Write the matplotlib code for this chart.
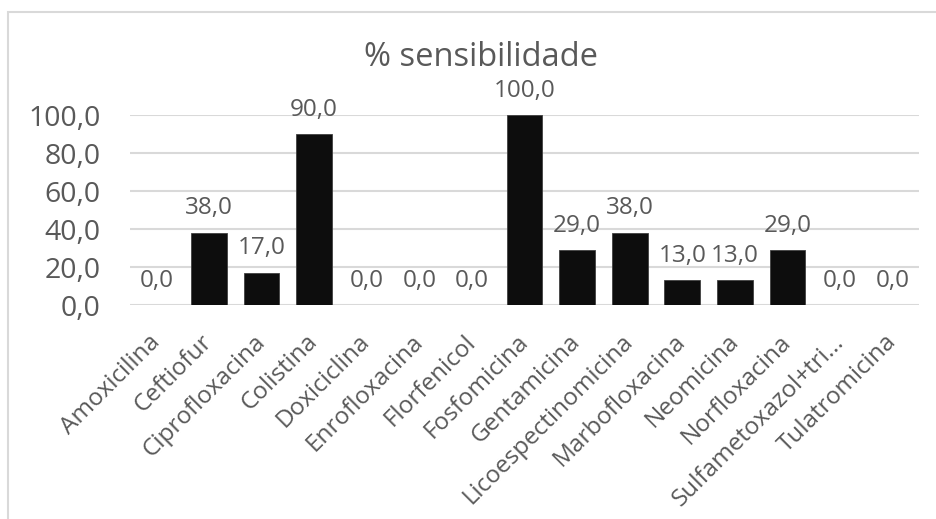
import matplotlib.pyplot as plt
from matplotlib.patches import Rectangle
from matplotlib.transforms import ScaledTranslation

# antimicrobial sensitivity (%)
drugs = ['Amoxicilina', 'Ceftiofur', 'Ciprofloxacina', 'Colistina', 'Doxiciclina',
         'Enrofloxacina', 'Florfenicol', 'Fosfomicina', 'Gentamicina',
         'Licoespectinomicina', 'Marbofloxacina', 'Neomicina', 'Norfloxacina',
         'Sulfametoxazol+tri...', 'Tulatromicina']
sensitivity = [0.0, 38.0, 17.0, 90.0, 0.0, 0.0, 0.0, 100.0, 29.0, 38.0, 13.0, 13.0, 29.0, 0.0, 0.0]
y_ticks = [0, 20, 40, 60, 80, 100]

TEXT = '#595959'
GRID = '#d9d9d9'
plt.rcParams['font.family'] = ['Open Sans', 'DejaVu Sans']

fig = plt.figure(figsize=(9.36, 5.19), dpi=100)

# chart-area border (only top and left edges visible in the crop)
fig.patches.append(Rectangle((8 / 936, -0.1), 1.2, 1 - 12 / 519 + 0.1,
                             transform=fig.transFigure, fill=False,
                             edgecolor=GRID, linewidth=1.5))

ax = fig.add_axes([130 / 936, 1 - 305 / 519, 789 / 936, 190 / 519])
x = range(len(drugs))
bars = ax.bar(x, sensitivity, width=0.68, color='#0d0d0d', edgecolor='#404040',
              linewidth=0.6, zorder=3)

for xi, v in zip(x, sensitivity):
    ax.annotate(f'{v:.1f}'.replace('.', ','), (xi, v), xytext=(0, 17.5),
                textcoords='offset points', ha='center', va='center',
                fontsize=17.5, color=TEXT)

ax.set_xlim(-0.5, len(drugs) - 0.5)
ax.set_ylim(0, 100)
ax.set_yticks(y_ticks)
ax.set_yticklabels([f'{t:.1f}'.replace('.', ',') for t in y_ticks], fontsize=20.5, color=TEXT)
ax.set_xticks(list(x))
ax.set_xticklabels(drugs, rotation=45, ha='right', va='center', rotation_mode='anchor',
                   fontsize=17.5, color=TEXT)
shift = ScaledTranslation(5 / 100, 0, fig.dpi_scale_trans)
for lbl in ax.get_xticklabels():
    lbl.set_transform(lbl.get_transform() + shift)
ax.tick_params(axis='y', length=0, pad=21)
ax.tick_params(axis='x', length=0, pad=24)
ax.grid(axis='y', color=GRID, linewidth=1.5, zorder=0)
for s in ax.spines.values():
    s.set_visible(False)

fig.text(481 / 936, 1 - 57 / 519, '% sensibilidade', ha='center', va='center',
         fontsize=23.5, color=TEXT)

plt.savefig('out.png', dpi=100)
